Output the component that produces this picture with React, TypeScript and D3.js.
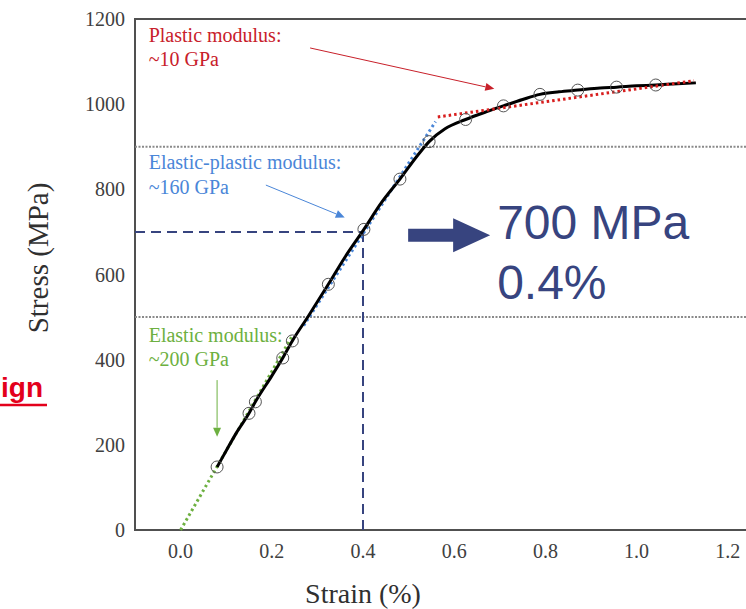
import React from "react";
import * as d3 from "d3";

// Black stress–strain curve
const curveStrain = [0.08, 0.1, 0.12, 0.15, 0.164, 0.2, 0.224, 0.245, 0.28, 0.324, 0.36, 0.402, 0.44, 0.481, 0.52, 0.545, 0.58, 0.625, 0.67, 0.708, 0.75, 0.788, 0.83, 0.871, 0.92, 0.956, 1.0, 1.042, 1.09, 1.13];
const curveStress = [148, 186, 224, 274, 301, 362, 404, 444, 502, 577, 640, 706, 768, 824, 880, 912, 942, 964, 982, 996, 1011, 1023, 1029, 1033, 1038, 1040, 1043, 1045, 1048, 1050];

// Open markers
const markerStrain = [0.08, 0.15, 0.164, 0.224, 0.245, 0.324, 0.402, 0.481, 0.545, 0.625, 0.708, 0.788, 0.871, 0.956, 1.042];
const markerStress = [148, 274, 301, 404, 444, 577, 706, 824, 912, 964, 996, 1023, 1033, 1040, 1045];

// Fitted modulus lines
const elasticLine = [[0, 0], [0.245, 456]];
const elasticPlasticLine = [[0.27, 480], [0.559, 959]];
const plasticLine = [[0.564, 970], [1.126, 1055]];

const xTicks = [0, 0.2, 0.4, 0.6, 0.8, 1.0, 1.2];
const yTicks = [0, 200, 400, 600, 800, 1000, 1200];
const refLines = [900, 500];
const markPoint = [0.4, 700];

const W = 746, H = 609;
const serif = "'Liberation Serif', 'Times New Roman', serif";
const sans = "'Liberation Sans', Arial, sans-serif";

export default function App() {
  const x = d3.scaleLinear().domain([-0.1, 1.3]).range([135, 773.4]);
  const y = d3.scaleLinear().domain([0, 1200]).range([530, 19]);
  const line = d3.line<[number, number]>().x(d => x(d[0])).y(d => y(d[1]));
  const curvePts = curveStrain.map((s, i) => [s, curveStress[i]] as [number, number]);
  const smooth = d3.line<[number, number]>().x(d => x(d[0])).y(d => y(d[1])).curve(d3.curveMonotoneX);

  const arrow = (x1: number, y1: number, x2: number, y2: number, color: string, hl = 9, hw = 4) => {
    const ang = Math.atan2(y2 - y1, x2 - x1);
    const bx = x2 - hl * Math.cos(ang), by = y2 - hl * Math.sin(ang);
    const px = -Math.sin(ang) * hw, py = Math.cos(ang) * hw;
    return (
      <g>
        <line x1={x1} y1={y1} x2={bx} y2={by} stroke={color} strokeWidth={1} />
        <polygon points={`${x2},${y2} ${bx + px},${by + py} ${bx - px},${by - py}`} fill={color} />
      </g>
    );
  };

  const red = "#C8202A", blue = "#4A86D8", green = "#6DB040", navy = "#37447F";

  // big arrow base
  const ax = x(0.499), ay = y(692);

  return (
    <svg width={W} height={H} style={{ position: "absolute", left: 0, top: 0, background: "#fff" }}>
      {/* frame */}
      <rect x={x(-0.1)} y={y(1200)} width={x(1.3) - x(-0.1)} height={y(0) - y(1200)} fill="none" stroke="#505050" strokeWidth={2} />

      {/* gray reference lines */}
      {refLines.map(v => (
        <line key={v} x1={x(-0.1)} x2={x(1.3)} y1={y(v)} y2={y(v)} stroke="#8a8a8a" strokeWidth={2} strokeDasharray="2,1.5" />
      ))}

      {/* navy dashed lines */}
      <line x1={x(-0.1)} x2={x(markPoint[0])} y1={y(markPoint[1])} y2={y(markPoint[1])} stroke={navy} strokeWidth={2} strokeDasharray="10,6" />
      <line x1={x(markPoint[0])} x2={x(markPoint[0])} y1={y(markPoint[1])} y2={y(0)} stroke={navy} strokeWidth={2} strokeDasharray="10,6" />

      {/* fitted lines */}
      <path d={line(elasticLine as [number, number][])!} stroke={green} strokeWidth={3} strokeDasharray="2.5,3" fill="none" />
      <path d={line(elasticPlasticLine as [number, number][])!} stroke={blue} strokeWidth={3} strokeDasharray="2.5,3" fill="none" />

      {/* curve */}
      <path d={smooth(curvePts)!} stroke="#000" strokeWidth={3} fill="none" />
      <path d={line(plasticLine as [number, number][])!} stroke="#D81E1E" strokeWidth={3} strokeDasharray="2.5,3" fill="none" />

      {/* markers */}
      {markerStrain.map((s, i) => (
        <circle key={i} cx={x(s)} cy={y(markerStress[i])} r={6} fill="none" stroke="#555" strokeWidth={1} />
      ))}

      {/* annotations */}
      <g fontFamily={serif} fontSize={20}>
        <text x={x(-0.07)} y={y(1146)} fill={red}>Plastic modulus:</text>
        <text x={x(-0.07)} y={y(1090)} fill={red}>~10 GPa</text>
        <text x={x(-0.07)} y={y(848)} fill={blue}>Elastic-plastic modulus:</text>
        <text x={x(-0.07)} y={y(789)} fill={blue}>~160 GPa</text>
        <text x={x(-0.07)} y={y(442)} fill={green}>Elastic modulus:</text>
        <text x={x(-0.07)} y={y(385)} fill={green}>~200 GPa</text>
      </g>
      {arrow(x(0.284), y(1132), x(0.688), y(1036), red)}
      {arrow(x(0.187), y(810), x(0.36), y(734), blue)}
      {arrow(x(0.08), y(352), x(0.08), y(219), green)}

      {/* big navy arrow and text */}
      <path d={`M${ax},${ay - 6.5} L${ax + 45},${ay - 6.5} L${ax + 45},${ay - 17} L${ax + 82},${ay} L${ax + 45},${ay + 17} L${ax + 45},${ay + 6.5} L${ax},${ay + 6.5} Z`} fill={navy} />
      <g fontFamily={sans} fontSize={48} fill={navy}>
        <text x={ax + 89} y={ay + 4}>700 MPa</text>
        <text x={ax + 89} y={ay + 64}>0.4%</text>
      </g>

      {/* ticks */}
      <g fontFamily={serif} fontSize={20} fill="#404040">
        {yTicks.map(t => (
          <text key={t} x={125} y={y(t)} dy="0.35em" textAnchor="end">{t}</text>
        ))}
        {xTicks.map(t => (
          <text key={t} x={x(t)} y={558} textAnchor="middle">{t.toFixed(1)}</text>
        ))}
      </g>
      <text x={x(0.4)} y={603} fontFamily={serif} fontSize={28} fill="#303030" textAnchor="middle">Strain (%)</text>
      <text transform="translate(48,258) rotate(-90)" fontFamily={serif} fontSize={29} fill="#303030" textAnchor="middle">Stress (MPa)</text>

      {/* cut-off heading (only its end is visible) */}
      <text x={1} y={397} fontFamily={sans} fontWeight="bold" fontSize={28} fill="#E3001B">ign</text>
      <line x1={0} x2={47} y1={405} y2={405} stroke="#E3001B" strokeWidth={2.5} />
    </svg>
  );
}
